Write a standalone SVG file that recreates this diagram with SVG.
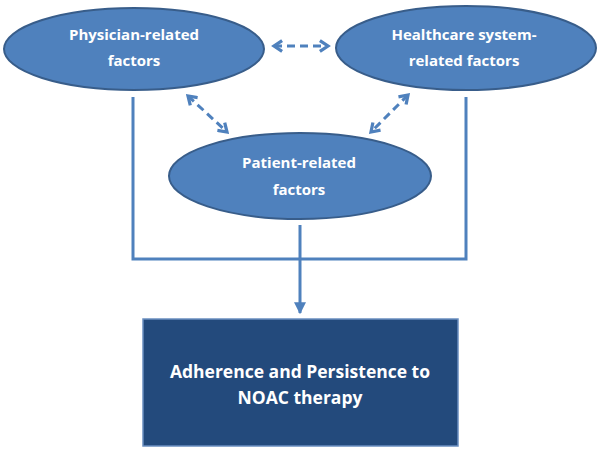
<svg xmlns="http://www.w3.org/2000/svg" width="600" height="450" viewBox="0 0 600 450">
<style>
.node ellipse{fill:#4F81BD;stroke:#385D8A;stroke-width:2}
.t{font-family:"Open Sans","Liberation Sans",sans-serif;font-weight:bold;fill:#fff;text-anchor:middle}
.e{font-size:15px}
.b{font-size:17.5px}
.ln{stroke:#4F81BD;stroke-width:3;fill:none}
.dash{stroke:#4F81BD;stroke-width:3;fill:none;stroke-dasharray:8 5}
</style>
<defs>
<marker id="chev" viewBox="0 0 10 10" refX="8" refY="5" markerWidth="4.5" markerHeight="4.5" orient="auto-start-reverse" markerUnits="strokeWidth">
<polyline points="2,1 8,5 2,9" fill="none" stroke="#4F81BD" stroke-width="2.4"/>
</marker>
<marker id="tri" viewBox="0 0 10 10" refX="9" refY="5" markerWidth="4" markerHeight="4" orient="auto" markerUnits="strokeWidth">
<path d="M0,0 L10,5 L0,10 Z" fill="#4F81BD"/>
</marker>
</defs>
<g id="connectors">
<polyline class="ln" points="133,97 133,259 466,259 466,97"/>
<line class="ln" x1="300" y1="225" x2="300" y2="313" marker-end="url(#tri)"/>
<line class="dash" x1="274" y1="46" x2="328" y2="46" marker-start="url(#chev)" marker-end="url(#chev)"/>
<line class="dash" x1="188" y1="96" x2="227" y2="132" marker-start="url(#chev)" marker-end="url(#chev)"/>
<line class="dash" x1="408" y1="95" x2="371" y2="132" marker-start="url(#chev)" marker-end="url(#chev)"/>
</g>
<g id="physician" class="node">
<ellipse cx="134" cy="49" rx="130" ry="41"/>
<text class="t e" x="134" y="40">Physician-related</text>
<text class="t e" x="134" y="66">factors</text>
</g>
<g id="healthcare" class="node">
<ellipse cx="466" cy="48" rx="130" ry="42"/>
<text class="t e" x="464" y="40">Healthcare system-</text>
<text class="t e" x="464" y="66">related factors</text>
</g>
<g id="patient" class="node">
<ellipse cx="300" cy="176" rx="131" ry="43"/>
<text class="t e" x="299" y="168">Patient-related</text>
<text class="t e" x="299" y="195">factors</text>
</g>
<g id="outcome" class="node">
<rect x="143" y="319" width="315" height="127" fill="#234A7C" stroke="#6A8EC0" stroke-width="1.5"/>
<text class="t b" x="300" y="378">Adherence and Persistence to</text>
<text class="t b" x="300" y="404">NOAC therapy</text>
</g>
</svg>
